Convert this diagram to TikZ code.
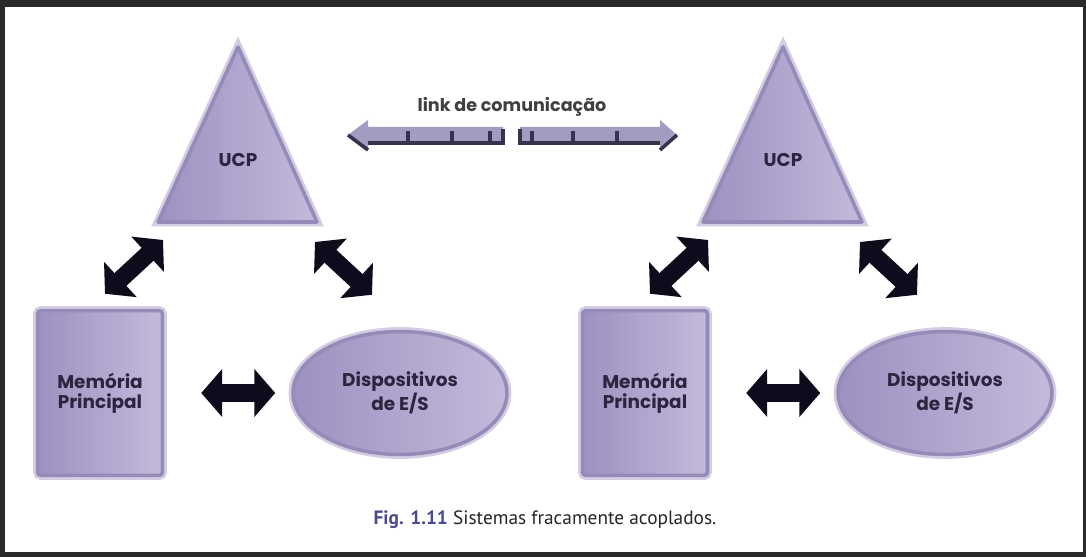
\documentclass[tikz,border=0pt]{standalone}
\usepackage{fontspec}
\setmainfont{PT Sans}
\newfontfamily\boxfont{Poppins}
\usetikzlibrary{arrows.meta,positioning,calc,shapes.geometric}

\definecolor{lavL}{HTML}{9D91C1}
\definecolor{lavR}{HTML}{C3BADB}
\definecolor{lavE}{HTML}{968AB9}
\definecolor{inkD}{HTML}{2B2540}
\definecolor{inkA}{HTML}{0E0B1C}
\definecolor{frameD}{HTML}{2A2A2A}
\definecolor{capB}{HTML}{4B4A8C}
\definecolor{linkF}{HTML}{A39BC2}
\definecolor{linkD}{HTML}{38334D}

\begin{document}
\begin{tikzpicture}[
  x={(0.02cm,0)},
  y={(0,-0.02cm)},
  unit/.style={draw=lavE, line width=2pt, left color=lavL, right color=lavR,
    preaction={draw=lavL!45, line width=5pt}},
  lbl/.style={font=\boxfont\bfseries\fontsize{10.5}{11.3}\selectfont, text=inkD, align=center},
  memo/.style={unit, rectangle, rounded corners=2pt, minimum width=2.5cm, minimum height=3.3cm},
  es/.style={unit, ellipse, minimum width=4.28cm, minimum height=2.46cm},
  bigarrow/.style={inkA, line width=0.35cm,
    {Triangle[length=0.42cm,width=0.94cm]}-{Triangle[length=0.42cm,width=0.94cm]}},
  linkedge/.style={linkD, line width=2pt}]
% frame of the screenshot
\fill[frameD] (0,0) rectangle (1086,557);
\fill[white] (5,7) rectangle (1083,552);
% two machines, the second one shifted to the right
\foreach \s/\dx in {a/0,b/545} {
  \begin{scope}[shift={(\dx,0)}]
  \coordinate (top\s) at (238,47);
  \coordinate (bl\s) at (158,222);
  \coordinate (br\s) at (317,222);
  \draw[unit, line join=round] (top\s) -- (br\s) -- (bl\s) -- cycle;
  \node[lbl] (ucp\s) at (238,160) {UCP};
  \node[memo, lbl] (mem\s) at (100,393) {Memória\\Principal};
  \node[es, lbl] (es\s) at (400,393) {Dispositivos\\de E/S};
  % connections
  \draw[bigarrow, shorten <=0.74cm, shorten >=0.32cm] (mem\s) -- (es\s);
  \draw[bigarrow] ($(mem\s.north)+(5,-15)$) -- ($(bl\s)+(5,18)$);
  \draw[bigarrow] ($(br\s)+(-2,20)$) -- ($(es\s.north)+(-28,-35)$);
  \end{scope}
}
% communication link
\coordinate (linkL) at (348,135);
\coordinate (linkR) at (677,135);
\fill[linkF] (linkL) -- (368,120) -- (368,127) -- (503,127) -- (503,143)
  -- (368,143) -- (368,150) -- cycle;
\fill[linkF] (520,127) -- (660,127) -- (660,120) -- (linkR) -- (660,150)
  -- (660,143) -- (520,143) -- cycle;
\draw[linkedge] (linkL) -- (368,150);
\draw[linkedge] (368,143) -- (503,143) -- (503,129);
\foreach \t in {408,452,490}
  \draw[linkedge] (\t,131) -- (\t,143);
\draw[linkedge] (520,129) -- (520,143) -- (660,143);
\foreach \t in {532,573,617}
  \draw[linkedge] (\t,131) -- (\t,143);
\draw[linkedge] (660,150) -- (linkR);
\node[font=\boxfont\bfseries\fontsize{10}{12}\selectfont, text=black!75] (linklbl)
  at (512,107) {link de comunicação};
% caption
\node[font=\fontsize{11}{13}\selectfont, text=black!85] (cap) at (545,520)
  {\textcolor{capB}{\bfseries Fig. 1.11} Sistemas fracamente acoplados.};
\end{tikzpicture}
\end{document}
